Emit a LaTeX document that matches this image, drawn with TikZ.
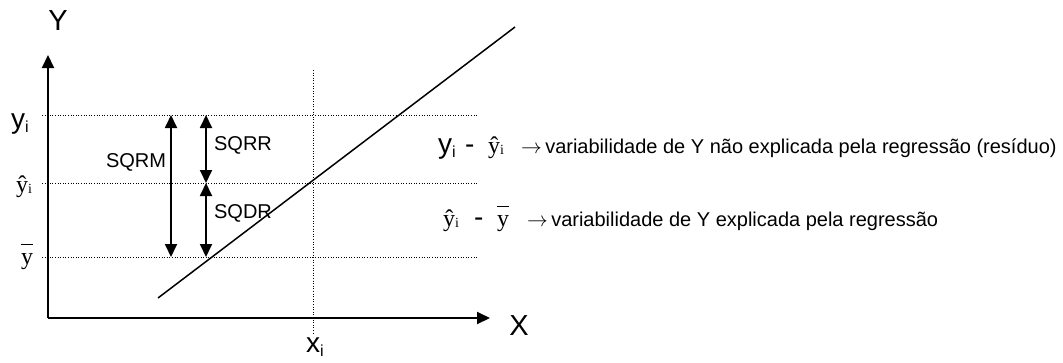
\documentclass[tikz,border=0pt]{standalone}
\usepackage{fontspec}
\setmainfont{Liberation Sans}
\newfontfamily\serifpart{Liberation Serif}
\usetikzlibrary{arrows.meta}

% y with index, hat and bar as in the picture
\newcommand{\yidx}{y\raisebox{-4pt}{\fontsize{16}{16}\selectfont i}}
\newcommand{\yhatidx}{{\serifpart ŷ\raisebox{-1pt}{\fontsize{14}{14}\selectfont i}}}
\newcommand{\ybarsym}{{\serifpart\makebox[0pt][l]{\raisebox{0.8em}{\rule{0.5em}{0.05em}}}y}}

\begin{document}
\begin{tikzpicture}[
    x=1pt, y=-1pt,
    axis/.style={line width=2pt, -{Triangle[length=13pt,width=12pt]}},
    guide/.style={line width=1pt, dash pattern=on 1pt off 1.6pt},
    span/.style={line width=1.8pt, {Triangle[length=13pt,width=12pt]}-{Triangle[length=13pt,width=12pt]}},
    lbl/.style={inner sep=0pt, font=\fontsize{20}{22}\selectfont},
    big/.style={inner sep=0pt, font=\fontsize{29}{32}\selectfont},
    sym/.style={inner sep=0pt, anchor=base west, font=\fontsize{28}{30}\selectfont},
    symsmall/.style={inner sep=0pt, anchor=base west, font=\fontsize{24}{26}\selectfont}
]
  \useasboundingbox (0,0) rectangle (1063,362);

  % axes
  \coordinate (origin) at (48,318);
  \coordinate (ytop) at (48,55);
  \coordinate (xend) at (490,318);
  \draw[axis] (origin) -- (ytop);
  \draw[axis] (origin) -- (xend);
  \node[big] (ylab) at (58,21) {Y};
  \node[big] (xlab) at (519,326) {X};

  % guide lines
  \coordinate (yiL) at (42,115);   \coordinate (yiR) at (478,115);
  \coordinate (yhL) at (42,183);   \coordinate (yhR) at (478,183);
  \coordinate (ybL) at (42,257);   \coordinate (ybR) at (478,257);
  \coordinate (xiT) at (313,70);   \coordinate (xiB) at (313,335);
  \draw[guide] (yiL) -- (yiR);
  \draw[guide] (yhL) -- (yhR);
  \draw[guide] (ybL) -- (ybR);
  \draw[guide] (xiT) -- (xiB);

  % regression line
  \coordinate (regA) at (158,298);
  \coordinate (regB) at (515,27);
  \draw[line width=1.5pt] (regA) -- (regB);

  % axis values
  \node[sym] (yilab) at (11,128) {\yidx};
  \node[symsmall] (yhlab) at (16,192) {\yhatidx};
  \node[symsmall] (yblab) at (21,264) {\ybarsym};
  \node[sym] (xilab) at (306,352) {x\raisebox{-4pt}{\fontsize{16}{16}\selectfont i}};

  % sums of squares
  \coordinate (m1) at (171,115);  \coordinate (m2) at (171,257);
  \coordinate (r1) at (206,115);  \coordinate (r2) at (206,183);  \coordinate (r3) at (206,257);
  \draw[span] (m1) -- (m2);
  \draw[span] (r1) -- (r2);
  \draw[span] (r2) -- (r3);
  \node[lbl] (sqrm) at (136,162) {SQRM};
  \node[lbl] (sqrr) at (243,145) {SQRR};
  \node[lbl] (sqdr) at (243,213) {SQDR};

  % meaning of each part
  \node[sym] (res1) at (438,153) {\yidx};
  \node[sym] (res2) at (465,153) {-};
  \node[symsmall] (res3) at (488,153) {\yhatidx};
  \node[lbl, anchor=base west] (res4) at (521,153) {$\rightarrow$\,variabilidade de Y não explicada pela regressão (resíduo)};
  \node[symsmall] (exp1) at (443,226) {\yhatidx};
  \node[sym] (exp2) at (474,226) {-};
  \node[symsmall] (exp3) at (497,226) {\ybarsym};
  \node[lbl, anchor=base west] (exp4) at (527,226) {$\rightarrow$\,variabilidade de Y explicada pela regressão};
\end{tikzpicture}
\end{document}
